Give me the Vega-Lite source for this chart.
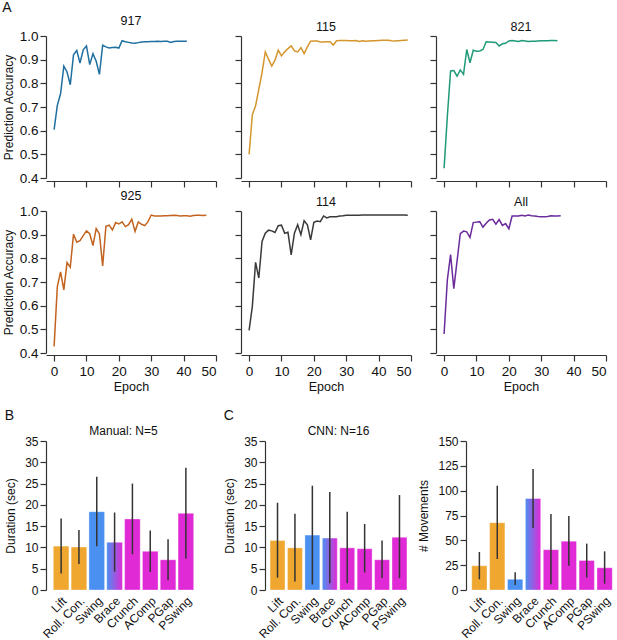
{
  "$schema": "https://vega.github.io/schema/vega-lite/v6.json",
  "background": "white",
  "padding": {"top": 0, "left": 2, "right": 0, "bottom": 0},
  "datasets": {
    "acc": [
      {"run":"917","epoch":0,"acc":0.604},{"run":"917","epoch":1,"acc":0.707},{"run":"917","epoch":2,"acc":0.756},{"run":"917","epoch":3,"acc":0.873},{"run":"917","epoch":4,"acc":0.848},{"run":"917","epoch":5,"acc":0.794},{"run":"917","epoch":6,"acc":0.921},{"run":"917","epoch":7,"acc":0.939},{"run":"917","epoch":8,"acc":0.886},{"run":"917","epoch":9,"acc":0.942},{"run":"917","epoch":10,"acc":0.958},{"run":"917","epoch":11,"acc":0.879},{"run":"917","epoch":12,"acc":0.925},{"run":"917","epoch":13,"acc":0.893},{"run":"917","epoch":14,"acc":0.838},{"run":"917","epoch":15,"acc":0.961},{"run":"917","epoch":16,"acc":0.954},{"run":"917","epoch":17,"acc":0.949},{"run":"917","epoch":18,"acc":0.951},{"run":"917","epoch":19,"acc":0.952},{"run":"917","epoch":20,"acc":0.949},{"run":"917","epoch":21,"acc":0.980},{"run":"917","epoch":22,"acc":0.976},{"run":"917","epoch":23,"acc":0.973},{"run":"917","epoch":24,"acc":0.970},{"run":"917","epoch":25,"acc":0.969},{"run":"917","epoch":26,"acc":0.972},{"run":"917","epoch":27,"acc":0.975},{"run":"917","epoch":28,"acc":0.976},{"run":"917","epoch":29,"acc":0.976},{"run":"917","epoch":30,"acc":0.977},{"run":"917","epoch":31,"acc":0.977},{"run":"917","epoch":32,"acc":0.978},{"run":"917","epoch":33,"acc":0.977},{"run":"917","epoch":34,"acc":0.978},{"run":"917","epoch":35,"acc":0.978},{"run":"917","epoch":36,"acc":0.973},{"run":"917","epoch":37,"acc":0.977},{"run":"917","epoch":38,"acc":0.978},{"run":"917","epoch":39,"acc":0.978},{"run":"917","epoch":40,"acc":0.978},{"run":"917","epoch":41,"acc":0.978},
      {"run":"115","epoch":0,"acc":0.500},{"run":"115","epoch":1,"acc":0.667},{"run":"115","epoch":2,"acc":0.705},{"run":"115","epoch":3,"acc":0.775},{"run":"115","epoch":4,"acc":0.845},{"run":"115","epoch":5,"acc":0.933},{"run":"115","epoch":6,"acc":0.902},{"run":"115","epoch":7,"acc":0.873},{"run":"115","epoch":8,"acc":0.898},{"run":"115","epoch":9,"acc":0.940},{"run":"115","epoch":10,"acc":0.916},{"run":"115","epoch":11,"acc":0.933},{"run":"115","epoch":12,"acc":0.947},{"run":"115","epoch":13,"acc":0.958},{"run":"115","epoch":14,"acc":0.937},{"run":"115","epoch":15,"acc":0.933},{"run":"115","epoch":16,"acc":0.951},{"run":"115","epoch":17,"acc":0.926},{"run":"115","epoch":18,"acc":0.954},{"run":"115","epoch":19,"acc":0.978},{"run":"115","epoch":20,"acc":0.979},{"run":"115","epoch":21,"acc":0.979},{"run":"115","epoch":22,"acc":0.975},{"run":"115","epoch":23,"acc":0.975},{"run":"115","epoch":24,"acc":0.976},{"run":"115","epoch":25,"acc":0.976},{"run":"115","epoch":26,"acc":0.962},{"run":"115","epoch":27,"acc":0.980},{"run":"115","epoch":28,"acc":0.981},{"run":"115","epoch":29,"acc":0.981},{"run":"115","epoch":30,"acc":0.981},{"run":"115","epoch":31,"acc":0.980},{"run":"115","epoch":32,"acc":0.980},{"run":"115","epoch":33,"acc":0.981},{"run":"115","epoch":34,"acc":0.977},{"run":"115","epoch":35,"acc":0.980},{"run":"115","epoch":36,"acc":0.978},{"run":"115","epoch":37,"acc":0.979},{"run":"115","epoch":38,"acc":0.980},{"run":"115","epoch":39,"acc":0.980},{"run":"115","epoch":40,"acc":0.981},{"run":"115","epoch":41,"acc":0.982},{"run":"115","epoch":42,"acc":0.982},{"run":"115","epoch":43,"acc":0.982},{"run":"115","epoch":44,"acc":0.980},{"run":"115","epoch":45,"acc":0.979},{"run":"115","epoch":46,"acc":0.980},{"run":"115","epoch":47,"acc":0.981},{"run":"115","epoch":48,"acc":0.982},{"run":"115","epoch":49,"acc":0.983},
      {"run":"821","epoch":0,"acc":0.441},{"run":"821","epoch":1,"acc":0.660},{"run":"821","epoch":2,"acc":0.852},{"run":"821","epoch":3,"acc":0.854},{"run":"821","epoch":4,"acc":0.830},{"run":"821","epoch":5,"acc":0.857},{"run":"821","epoch":6,"acc":0.838},{"run":"821","epoch":7,"acc":0.943},{"run":"821","epoch":8,"acc":0.887},{"run":"821","epoch":9,"acc":0.940},{"run":"821","epoch":10,"acc":0.936},{"run":"821","epoch":11,"acc":0.937},{"run":"821","epoch":12,"acc":0.943},{"run":"821","epoch":13,"acc":0.976},{"run":"821","epoch":14,"acc":0.975},{"run":"821","epoch":15,"acc":0.974},{"run":"821","epoch":16,"acc":0.973},{"run":"821","epoch":17,"acc":0.958},{"run":"821","epoch":18,"acc":0.967},{"run":"821","epoch":19,"acc":0.969},{"run":"821","epoch":20,"acc":0.979},{"run":"821","epoch":21,"acc":0.981},{"run":"821","epoch":22,"acc":0.979},{"run":"821","epoch":23,"acc":0.977},{"run":"821","epoch":24,"acc":0.981},{"run":"821","epoch":25,"acc":0.979},{"run":"821","epoch":26,"acc":0.977},{"run":"821","epoch":27,"acc":0.978},{"run":"821","epoch":28,"acc":0.978},{"run":"821","epoch":29,"acc":0.979},{"run":"821","epoch":30,"acc":0.980},{"run":"821","epoch":31,"acc":0.980},{"run":"821","epoch":32,"acc":0.980},{"run":"821","epoch":33,"acc":0.981},{"run":"821","epoch":34,"acc":0.981},{"run":"821","epoch":35,"acc":0.980},
      {"run":"925","epoch":0,"acc":0.428},{"run":"925","epoch":1,"acc":0.681},{"run":"925","epoch":2,"acc":0.743},{"run":"925","epoch":3,"acc":0.667},{"run":"925","epoch":4,"acc":0.782},{"run":"925","epoch":5,"acc":0.763},{"run":"925","epoch":6,"acc":0.902},{"run":"925","epoch":7,"acc":0.868},{"run":"925","epoch":8,"acc":0.875},{"run":"925","epoch":9,"acc":0.896},{"run":"925","epoch":10,"acc":0.916},{"run":"925","epoch":11,"acc":0.904},{"run":"925","epoch":12,"acc":0.854},{"run":"925","epoch":13,"acc":0.926},{"run":"925","epoch":14,"acc":0.903},{"run":"925","epoch":15,"acc":0.768},{"run":"925","epoch":16,"acc":0.935},{"run":"925","epoch":17,"acc":0.940},{"run":"925","epoch":18,"acc":0.920},{"run":"925","epoch":19,"acc":0.951},{"run":"925","epoch":20,"acc":0.945},{"run":"925","epoch":21,"acc":0.954},{"run":"925","epoch":22,"acc":0.934},{"run":"925","epoch":23,"acc":0.942},{"run":"925","epoch":24,"acc":0.965},{"run":"925","epoch":25,"acc":0.914},{"run":"925","epoch":26,"acc":0.954},{"run":"925","epoch":27,"acc":0.944},{"run":"925","epoch":28,"acc":0.938},{"run":"925","epoch":29,"acc":0.955},{"run":"925","epoch":30,"acc":0.983},{"run":"925","epoch":31,"acc":0.979},{"run":"925","epoch":32,"acc":0.979},{"run":"925","epoch":33,"acc":0.979},{"run":"925","epoch":34,"acc":0.980},{"run":"925","epoch":35,"acc":0.980},{"run":"925","epoch":36,"acc":0.981},{"run":"925","epoch":37,"acc":0.982},{"run":"925","epoch":38,"acc":0.981},{"run":"925","epoch":39,"acc":0.979},{"run":"925","epoch":40,"acc":0.980},{"run":"925","epoch":41,"acc":0.980},{"run":"925","epoch":42,"acc":0.978},{"run":"925","epoch":43,"acc":0.981},{"run":"925","epoch":44,"acc":0.982},{"run":"925","epoch":45,"acc":0.982},{"run":"925","epoch":46,"acc":0.981},{"run":"925","epoch":47,"acc":0.982},
      {"run":"114","epoch":0,"acc":0.496},{"run":"114","epoch":1,"acc":0.597},{"run":"114","epoch":2,"acc":0.783},{"run":"114","epoch":3,"acc":0.717},{"run":"114","epoch":4,"acc":0.871},{"run":"114","epoch":5,"acc":0.906},{"run":"114","epoch":6,"acc":0.919},{"run":"114","epoch":7,"acc":0.916},{"run":"114","epoch":8,"acc":0.909},{"run":"114","epoch":9,"acc":0.938},{"run":"114","epoch":10,"acc":0.940},{"run":"114","epoch":11,"acc":0.906},{"run":"114","epoch":12,"acc":0.910},{"run":"114","epoch":13,"acc":0.815},{"run":"114","epoch":14,"acc":0.906},{"run":"114","epoch":15,"acc":0.942},{"run":"114","epoch":16,"acc":0.900},{"run":"114","epoch":17,"acc":0.959},{"run":"114","epoch":18,"acc":0.942},{"run":"114","epoch":19,"acc":0.878},{"run":"114","epoch":20,"acc":0.952},{"run":"114","epoch":21,"acc":0.958},{"run":"114","epoch":22,"acc":0.955},{"run":"114","epoch":23,"acc":0.979},{"run":"114","epoch":24,"acc":0.971},{"run":"114","epoch":25,"acc":0.976},{"run":"114","epoch":26,"acc":0.976},{"run":"114","epoch":27,"acc":0.976},{"run":"114","epoch":28,"acc":0.979},{"run":"114","epoch":29,"acc":0.980},{"run":"114","epoch":30,"acc":0.982},{"run":"114","epoch":31,"acc":0.982},{"run":"114","epoch":32,"acc":0.982},{"run":"114","epoch":33,"acc":0.982},{"run":"114","epoch":34,"acc":0.982},{"run":"114","epoch":35,"acc":0.983},{"run":"114","epoch":36,"acc":0.983},{"run":"114","epoch":37,"acc":0.983},{"run":"114","epoch":38,"acc":0.983},{"run":"114","epoch":39,"acc":0.983},{"run":"114","epoch":40,"acc":0.983},{"run":"114","epoch":41,"acc":0.983},{"run":"114","epoch":42,"acc":0.983},{"run":"114","epoch":43,"acc":0.983},{"run":"114","epoch":44,"acc":0.983},{"run":"114","epoch":45,"acc":0.983},{"run":"114","epoch":46,"acc":0.983},{"run":"114","epoch":47,"acc":0.983},{"run":"114","epoch":48,"acc":0.983},{"run":"114","epoch":49,"acc":0.982},
      {"run":"All","epoch":0,"acc":0.480},{"run":"All","epoch":1,"acc":0.708},{"run":"All","epoch":2,"acc":0.816},{"run":"All","epoch":3,"acc":0.672},{"run":"All","epoch":4,"acc":0.788},{"run":"All","epoch":5,"acc":0.904},{"run":"All","epoch":6,"acc":0.915},{"run":"All","epoch":7,"acc":0.912},{"run":"All","epoch":8,"acc":0.888},{"run":"All","epoch":9,"acc":0.951},{"run":"All","epoch":10,"acc":0.953},{"run":"All","epoch":11,"acc":0.955},{"run":"All","epoch":12,"acc":0.932},{"run":"All","epoch":13,"acc":0.948},{"run":"All","epoch":14,"acc":0.962},{"run":"All","epoch":15,"acc":0.965},{"run":"All","epoch":16,"acc":0.944},{"run":"All","epoch":17,"acc":0.964},{"run":"All","epoch":18,"acc":0.939},{"run":"All","epoch":19,"acc":0.947},{"run":"All","epoch":20,"acc":0.925},{"run":"All","epoch":21,"acc":0.979},{"run":"All","epoch":22,"acc":0.979},{"run":"All","epoch":23,"acc":0.979},{"run":"All","epoch":24,"acc":0.982},{"run":"All","epoch":25,"acc":0.979},{"run":"All","epoch":26,"acc":0.983},{"run":"All","epoch":27,"acc":0.980},{"run":"All","epoch":28,"acc":0.979},{"run":"All","epoch":29,"acc":0.977},{"run":"All","epoch":30,"acc":0.976},{"run":"All","epoch":31,"acc":0.976},{"run":"All","epoch":32,"acc":0.977},{"run":"All","epoch":33,"acc":0.980},{"run":"All","epoch":34,"acc":0.979},{"run":"All","epoch":35,"acc":0.979},{"run":"All","epoch":36,"acc":0.980}
    ],
    "bars": [
      {"panel":"manual","move":"Lift","mean":10.3,"lo":3.9,"hi":16.8},
      {"panel":"manual","move":"Roll. Con.","mean":10.1,"lo":6.1,"hi":14.1},
      {"panel":"manual","move":"Swing","mean":18.4,"lo":10.3,"hi":26.6},
      {"panel":"manual","move":"Brace","mean":11.2,"lo":4.3,"hi":18.2},
      {"panel":"manual","move":"Crunch","mean":16.7,"lo":8.4,"hi":25.0},
      {"panel":"manual","move":"AComp","mean":9.1,"lo":4.2,"hi":14.0},
      {"panel":"manual","move":"PGap","mean":7.1,"lo":2.3,"hi":11.9},
      {"panel":"manual","move":"PSwing","mean":18.0,"lo":7.4,"hi":28.7},
      {"panel":"cnn","move":"Lift","mean":11.6,"lo":2.9,"hi":20.5},
      {"panel":"cnn","move":"Roll. Con.","mean":9.9,"lo":2.0,"hi":17.9},
      {"panel":"cnn","move":"Swing","mean":12.9,"lo":1.3,"hi":24.5},
      {"panel":"cnn","move":"Brace","mean":12.2,"lo":1.6,"hi":23.0},
      {"panel":"cnn","move":"Crunch","mean":9.9,"lo":1.6,"hi":18.4},
      {"panel":"cnn","move":"AComp","mean":9.7,"lo":4.1,"hi":15.5},
      {"panel":"cnn","move":"PGap","mean":7.1,"lo":2.8,"hi":11.6},
      {"panel":"cnn","move":"PSwing","mean":12.4,"lo":2.8,"hi":22.3},
      {"panel":"count","move":"Lift","mean":24.4,"lo":10.8,"hi":38.3},
      {"panel":"count","move":"Roll. Con.","mean":67.7,"lo":31.2,"hi":105.0},
      {"panel":"count","move":"Swing","mean":10.8,"lo":5.1,"hi":17.9},
      {"panel":"count","move":"Brace","mean":92.1,"lo":62.3,"hi":121.9},
      {"panel":"count","move":"Crunch","mean":40.6,"lo":5.8,"hi":76.5},
      {"panel":"count","move":"AComp","mean":49.1,"lo":24.4,"hi":74.5},
      {"panel":"count","move":"PGap","mean":29.8,"lo":12.5,"hi":46.7},
      {"panel":"count","move":"PSwing","mean":22.4,"lo":6.4,"hi":38.9}
    ]
  },
  "config": {
    "font": "Liberation Sans",
    "view": {"stroke": null},
    "axis": {"grid": false, "domainColor": "#333333", "tickColor": "#333333", "labelColor": "#111111", "titleColor": "#111111", "titleFontWeight": "normal", "labelFont": "Liberation Sans", "titleFont": "Liberation Sans", "tickSize": 6, "domainWidth": 1.2, "tickWidth": 1.2, "labelOverlap": false},
    "title": {"font": "Liberation Sans", "fontWeight": "normal", "fontSize": 12.5, "color": "#111111", "offset": 2}
  },
  "vconcat": [
    {
      "title": {"text": "A", "anchor": "start", "frame": "bounds", "fontSize": 14, "offset": 0},
      "columns": 3,
      "bounds": "flush",
      "spacing": {"row": 33, "column": 25},
      "concat": [
        {"width": 170, "height": 142, "title": "917", "data": {"name": "acc"}, "transform": [{"filter": "datum.run === '917'"}],
         "mark": {"type": "line", "color": "#1f6fa0", "strokeWidth": 1.5},
         "encoding": {
           "x": {"field": "epoch", "type": "quantitative", "scale": {"domain": [-2.5, 50], "nice": false, "zero": false}, "axis": {"values": [0,10,20,30,40,50], "labels": false, "title": null, "offset": 3}},
           "y": {"field": "acc", "type": "quantitative", "scale": {"domain": [0.4, 1.0], "nice": false, "zero": false}, "axis": {"values": [0.4,0.5,0.6,0.7,0.8,0.9,1.0], "format": ".1f", "title": "Prediction Accuracy", "labelFontSize": 13.5, "titleFontSize": 12, "labelPadding": 2, "titlePadding": 4}}
         }},
        {"width": 170, "height": 142, "title": "115", "data": {"name": "acc"}, "transform": [{"filter": "datum.run === '115'"}],
         "mark": {"type": "line", "color": "#d4962c", "strokeWidth": 1.5},
         "encoding": {
           "x": {"field": "epoch", "type": "quantitative", "scale": {"domain": [-2.5, 50], "nice": false, "zero": false}, "axis": {"values": [0,10,20,30,40,50], "labels": false, "title": null, "offset": 3}},
           "y": {"field": "acc", "type": "quantitative", "scale": {"domain": [0.4, 1.0], "nice": false, "zero": false}, "axis": {"values": [0.4,0.5,0.6,0.7,0.8,0.9,1.0], "labels": false, "title": null}}
         }},
        {"width": 170, "height": 142, "title": "821", "data": {"name": "acc"}, "transform": [{"filter": "datum.run === '821'"}],
         "mark": {"type": "line", "color": "#1f9a78", "strokeWidth": 1.5},
         "encoding": {
           "x": {"field": "epoch", "type": "quantitative", "scale": {"domain": [-2.5, 50], "nice": false, "zero": false}, "axis": {"values": [0,10,20,30,40,50], "labels": false, "title": null, "offset": 3}},
           "y": {"field": "acc", "type": "quantitative", "scale": {"domain": [0.4, 1.0], "nice": false, "zero": false}, "axis": {"values": [0.4,0.5,0.6,0.7,0.8,0.9,1.0], "labels": false, "title": null}}
         }},
        {"width": 170, "height": 142, "title": "925", "data": {"name": "acc"}, "transform": [{"filter": "datum.run === '925'"}],
         "mark": {"type": "line", "color": "#c2631f", "strokeWidth": 1.5},
         "encoding": {
           "x": {"field": "epoch", "type": "quantitative", "scale": {"domain": [-2.5, 50], "nice": false, "zero": false}, "axis": {"values": [0,10,20,30,40,50], "title": "Epoch", "offset": 2, "labelFontSize": 13.5, "titleFontSize": 12.5, "labelPadding": 3, "titlePadding": 3}},
           "y": {"field": "acc", "type": "quantitative", "scale": {"domain": [0.4, 1.0], "nice": false, "zero": false}, "axis": {"values": [0.4,0.5,0.6,0.7,0.8,0.9,1.0], "format": ".1f", "title": "Prediction Accuracy", "labelFontSize": 13.5, "titleFontSize": 12, "labelPadding": 2, "titlePadding": 4}}
         }},
        {"width": 170, "height": 142, "title": "114", "data": {"name": "acc"}, "transform": [{"filter": "datum.run === '114'"}],
         "mark": {"type": "line", "color": "#3a3a3a", "strokeWidth": 1.5},
         "encoding": {
           "x": {"field": "epoch", "type": "quantitative", "scale": {"domain": [-2.5, 50], "nice": false, "zero": false}, "axis": {"values": [0,10,20,30,40,50], "title": "Epoch", "offset": 2, "labelFontSize": 13.5, "titleFontSize": 12.5, "labelPadding": 3, "titlePadding": 3}},
           "y": {"field": "acc", "type": "quantitative", "scale": {"domain": [0.4, 1.0], "nice": false, "zero": false}, "axis": {"values": [0.4,0.5,0.6,0.7,0.8,0.9,1.0], "labels": false, "title": null}}
         }},
        {"width": 170, "height": 142, "title": "All", "data": {"name": "acc"}, "transform": [{"filter": "datum.run === 'All'"}],
         "mark": {"type": "line", "color": "#6a2c9c", "strokeWidth": 1.5},
         "encoding": {
           "x": {"field": "epoch", "type": "quantitative", "scale": {"domain": [-2.5, 50], "nice": false, "zero": false}, "axis": {"values": [0,10,20,30,40,50], "title": "Epoch", "offset": 2, "labelFontSize": 13.5, "titleFontSize": 12.5, "labelPadding": 3, "titlePadding": 3}},
           "y": {"field": "acc", "type": "quantitative", "scale": {"domain": [0.4, 1.0], "nice": false, "zero": false}, "axis": {"values": [0.4,0.5,0.6,0.7,0.8,0.9,1.0], "labels": false, "title": null}}
         }}
      ]
    },
    {
      "hconcat": [
        {
          "title": {"text": "B", "anchor": "start", "frame": "bounds", "fontSize": 14, "offset": 2},
          "hconcat": [
            {"width": 155, "height": 149, "title": {"text": "Manual: N=5", "fontSize": 12, "offset": -3}, "data": {"name": "bars"}, "transform": [{"filter": "datum.panel === 'manual'"}],
             "encoding": {
               "x": {"field": "move", "type": "nominal", "sort": ["Lift","Roll. Con.","Swing","Brace","Crunch","AComp","PGap","PSwing"], "scale": {"paddingInner": 0.123, "paddingOuter": 0.41}, "axis": {"title": null, "labelAngle": -45, "domain": false, "ticks": false, "labelFontSize": 12, "labelPadding": 5}}
             },
             "layer": [
               {"mark": {"type": "bar", "stroke": "#ffffff", "strokeOpacity": 0.35, "strokeWidth": 1},
                "encoding": {
                  "y": {"field": "mean", "type": "quantitative", "scale": {"domain": [0, 35], "nice": false}, "axis": {"values": [0,5,10,15,20,25,30,35], "title": "Duration (sec)", "labelFontSize": 12, "titleFontSize": 12, "labelPadding": 2, "titlePadding": 7}},
                  "fill": {"condition": {"test": "datum.move === 'Brace'", "value": {"gradient": "linear", "x1": 0, "y1": 0, "x2": 1, "y2": 0, "stops": [{"offset": 0, "color": "#4a90f0"}, {"offset": 1, "color": "#e02ad6"}]}},
                           "field": "move", "type": "nominal", "legend": null,
                           "scale": {"domain": ["Lift","Roll. Con.","Swing","Brace","Crunch","AComp","PGap","PSwing"], "range": ["#efa730","#efa730","#4a90f0","#9a5de0","#e02ad6","#e02ad6","#e02ad6","#e02ad6"]}}
                }},
               {"mark": {"type": "rule", "color": "#333333", "strokeWidth": 1.5},
                "encoding": {"y": {"field": "lo", "type": "quantitative", "scale": {"domain": [0, 35], "nice": false}, "axis": {"values": [0,5,10,15,20,25,30,35], "title": "Duration (sec)", "labelFontSize": 12, "titleFontSize": 12, "labelPadding": 2, "titlePadding": 7}}, "y2": {"field": "hi"}}}
             ]}
          ]
        },
        {
          "title": {"text": "C", "anchor": "start", "frame": "bounds", "fontSize": 14, "offset": 2},
          "bounds": "flush",
          "spacing": 54,
          "hconcat": [
            {"width": 147, "height": 149, "title": {"text": "CNN: N=16", "fontSize": 12, "offset": -3}, "data": {"name": "bars"}, "transform": [{"filter": "datum.panel === 'cnn'"}],
             "encoding": {
               "x": {"field": "move", "type": "nominal", "sort": ["Lift","Roll. Con.","Swing","Brace","Crunch","AComp","PGap","PSwing"], "scale": {"paddingInner": 0.143, "paddingOuter": 0.29}, "axis": {"title": null, "labelAngle": -45, "domain": false, "ticks": false, "labelFontSize": 12, "labelPadding": 5}}
             },
             "layer": [
               {"mark": {"type": "bar", "stroke": "#ffffff", "strokeOpacity": 0.35, "strokeWidth": 1},
                "encoding": {
                  "y": {"field": "mean", "type": "quantitative", "scale": {"domain": [0, 35], "nice": false}, "axis": {"values": [0,5,10,15,20,25,30,35], "title": "Duration (sec)", "labelFontSize": 12, "titleFontSize": 12, "labelPadding": 2, "titlePadding": 7}},
                  "fill": {"condition": {"test": "datum.move === 'Brace'", "value": {"gradient": "linear", "x1": 0, "y1": 0, "x2": 1, "y2": 0, "stops": [{"offset": 0, "color": "#4a90f0"}, {"offset": 1, "color": "#e02ad6"}]}},
                           "field": "move", "type": "nominal", "legend": null,
                           "scale": {"domain": ["Lift","Roll. Con.","Swing","Brace","Crunch","AComp","PGap","PSwing"], "range": ["#efa730","#efa730","#4a90f0","#9a5de0","#e02ad6","#e02ad6","#e02ad6","#e02ad6"]}}
                }},
               {"mark": {"type": "rule", "color": "#333333", "strokeWidth": 1.5},
                "encoding": {"y": {"field": "lo", "type": "quantitative", "scale": {"domain": [0, 35], "nice": false}, "axis": {"values": [0,5,10,15,20,25,30,35], "title": "Duration (sec)", "labelFontSize": 12, "titleFontSize": 12, "labelPadding": 2, "titlePadding": 7}}, "y2": {"field": "hi"}}}
             ]},
            {"width": 152, "height": 149, "title": {"text": " ", "fontSize": 12, "offset": -3}, "data": {"name": "bars"}, "transform": [{"filter": "datum.panel === 'count'"}],
             "encoding": {
               "x": {"field": "move", "type": "nominal", "sort": ["Lift","Roll. Con.","Swing","Brace","Crunch","AComp","PGap","PSwing"], "scale": {"paddingInner": 0.145, "paddingOuter": 0.32}, "axis": {"title": null, "labelAngle": -45, "domain": false, "ticks": false, "labelFontSize": 12, "labelPadding": 5}}
             },
             "layer": [
               {"mark": {"type": "bar", "stroke": "#ffffff", "strokeOpacity": 0.35, "strokeWidth": 1},
                "encoding": {
                  "y": {"field": "mean", "type": "quantitative", "scale": {"domain": [0, 150], "nice": false}, "axis": {"values": [0,25,50,75,100,125,150], "title": "# Movements", "labelFontSize": 12, "titleFontSize": 12, "labelPadding": 2, "titlePadding": 7}},
                  "fill": {"condition": {"test": "datum.move === 'Brace'", "value": {"gradient": "linear", "x1": 0, "y1": 0, "x2": 1, "y2": 0, "stops": [{"offset": 0, "color": "#4a90f0"}, {"offset": 1, "color": "#e02ad6"}]}},
                           "field": "move", "type": "nominal", "legend": null,
                           "scale": {"domain": ["Lift","Roll. Con.","Swing","Brace","Crunch","AComp","PGap","PSwing"], "range": ["#efa730","#efa730","#4a90f0","#9a5de0","#e02ad6","#e02ad6","#e02ad6","#e02ad6"]}}
                }},
               {"mark": {"type": "rule", "color": "#333333", "strokeWidth": 1.5},
                "encoding": {"y": {"field": "lo", "type": "quantitative", "scale": {"domain": [0, 150], "nice": false}, "axis": {"values": [0,25,50,75,100,125,150], "title": "# Movements", "labelFontSize": 12, "titleFontSize": 12, "labelPadding": 2, "titlePadding": 7}}, "y2": {"field": "hi"}}}
             ]}
          ]
        }
      ],
      "spacing": 22
    }
  ],
  "spacing": 16
}
